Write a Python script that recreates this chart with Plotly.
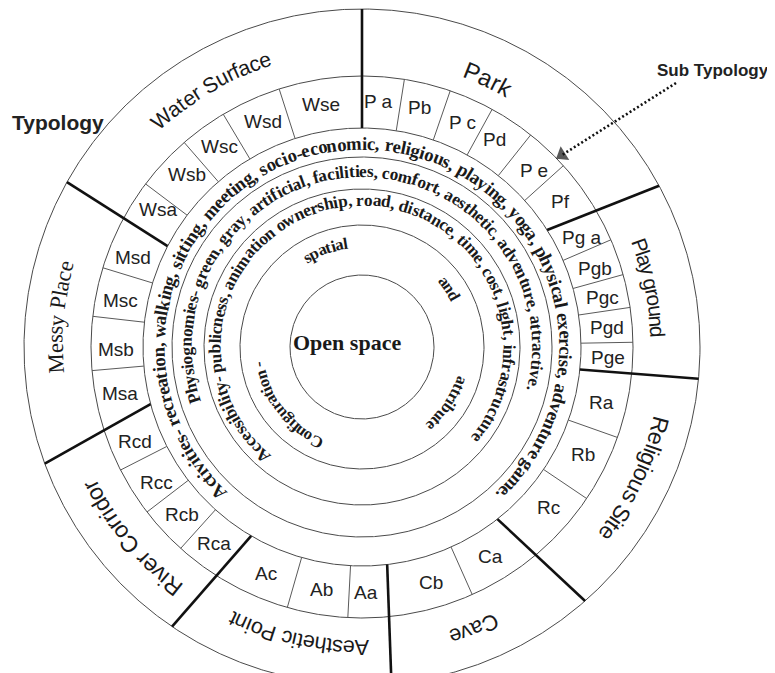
import numpy as np
import plotly.graph_objects as go

W, H = 775, 673
PAGE_MARGIN = 8  # default browser body margin around the figure
CX, CY = 362.0, 347.0

# ---------------- data ----------------
ring_radii = [72, 122, 158, 190, 219, 271, 338]
R_SUB_IN, R_SUB_OUT, R_OUT = 219, 271, 338
R_SUB_LABEL = 246

typology_names = ["Water Surface", "Park", "Play ground", "Religious Site",
                  "Cave", "Aesthetic Point", "River Corridor", "Messy Place"]
typology_start = [131.3, 68.2, 20.0, -14.8, -65.1, 270.0, 231.6, 183.0]
typology_end = [108.6, 61.1, 3.0, -37.2, -72.1, 244.5, 206.9, 164.7]
typology_radius = [303, 296, 296, 308, 304, 301, 305, 307]
typology_serif = [False, False, False, False, False, False, False, True]
typology_glyph_scale = [1.0, 0.95, 1.12, 1.04, 1.0, 1.0, 1.0, 1.0]

boundary_inner = [90.0, 32.3, -5.9, -51.8, -83.4, 239.6, 195.1, 152.6]
boundary_outer = [90.0, 28.5, -5.4, -48.7, -85.0, 235.8, 200.2, 150.8]

sub_names = ["P a", "Pb", "P c", "Pd", "P e", "Pf",
             "Pg a", "Pgb", "Pgc", "Pgd", "Pge",
             "Ra", "Rb", "Rc", "Ca", "Cb", "Aa", "Ab", "Ac",
             "Rca", "Rcb", "Rcc", "Rcd", "Msa", "Msb", "Msc", "Msd",
             "Wsa", "Wsb", "Wsc", "Wsd", "Wse"]
sub_angles = [86.2, 76.4, 65.9, 57.5, 45.8, 36.2,
              26.5, 18.7, 11.7, 4.5, -2.4,
              -13.1, -25.8, -40.6, -58.4, -73.6, -89.0, -99.5, -113.0,
              -127.0, -137.0, -146.5, -157.5, -169.2, -179.5, 169.0, 158.6,
              146.0, 135.5, 125.3, 113.8, 99.6]
sub_dividers = [81.0, 71.0, 61.3, 51.5, 42.0, 23.3, 15.5, 8.4, 1.0,
                -19.5, -34.0, -66.0, -93.0, -106.0, -132.0, -142.5, -153.0,
                -175.0, 173.5, 163.0, 143.0, 131.0, 120.8, 107.8]

ring_texts = [
    "Activities- recreation, walking, sitting, meeting, socio-economic, religious, playing, yoga, physical exercise, adventure game.",
    "Physiognomies- green, gray, artificial, facilities, comfort, aesthetic, adventure, attractive.",
    "Accessibility- publicness, animation ownership, road, distance, time, cost, light, infrastructure",
]
ring_text_radius = [204, 175.5, 147]
ring_text_start = [225.2, 197.0, 227.5]
ring_text_end = [-47.2, -13.6, -38.4]

config_words = ["Configuration -", "spatial", "and", "attribute"]
config_angles = [217.6, 110.5, 34.0, -33.6]
CONFIG_R = 105
CONFIG_FS = 16.5

center_label = "Open space"
center_label_pos = (347, 342)

arrow_tail = (676, 83)
arrow_tip = (562, 155)

# ---------------- font metrics (per 1000 em) ----------------
TIMES_BOLD = {' ': 250, ',': 250, '-': 333, '.': 250, 'A': 722, 'C': 722, 'P': 611,
              'a': 500, 'b': 556, 'c': 444, 'd': 556, 'e': 444, 'f': 333, 'g': 500,
              'h': 556, 'i': 278, 'j': 333, 'k': 556, 'l': 278, 'm': 833, 'n': 556,
              'o': 500, 'p': 556, 'q': 556, 'r': 444, 's': 389, 't': 333, 'u': 556,
              'v': 500, 'w': 722, 'x': 500, 'y': 500, 'z': 444}
TIMES = {' ': 250, 'M': 889, 'P': 556, 'a': 444, 'c': 444, 'e': 444, 'l': 278,
         's': 389, 'y': 500}
HELV = {' ': 278, 'A': 667, 'C': 722, 'P': 667, 'R': 722, 'S': 667, 'W': 944,
        'a': 556, 'c': 500, 'd': 556, 'e': 556, 'f': 278, 'g': 556, 'h': 556,
        'i': 222, 'k': 500, 'l': 222, 'n': 556, 'o': 556, 'p': 556, 'r': 333,
        's': 500, 't': 278, 'u': 556, 'v': 500, 'y': 500}

SERIF = "Liberation Serif, Times New Roman, serif"
SANS = "Liberation Sans, Arial, sans-serif"
TXT = "#1a1a1a"


def pol(r, a_deg):
    t = np.deg2rad(a_deg)
    return CX + r * np.cos(t), CY - r * np.sin(t)


def centers(text, widths):
    w = np.array([widths.get(c, 500) for c in text], dtype=float) / 1000.0
    return w, np.cumsum(w) - w / 2


def make_anns(text, ang, r, fs, family, weight):
    out = []
    for ch, a in zip(text, ang):
        if ch == ' ':
            continue
        x, y = pol(r, a)
        rot = ((90 - a + 180) % 360) - 180
        out.append(dict(x=x, y=y, xref='x', yref='y', text=ch, showarrow=False,
                        textangle=rot, xanchor='center', yanchor='middle',
                        font=dict(family=family, size=fs, color=TXT, weight=weight)))
    return out


def arc_span(text, widths, r, a0, a1, family, weight, glyph_scale=1.0):
    w, c = centers(text, widths)
    span = np.deg2rad(a0 - a1)
    fs = span * r / (c[-1] - c[0])
    ang = a0 - np.rad2deg((c - c[0]) * fs / r)
    return make_anns(text, ang, r, fs * glyph_scale, family, weight)


def arc_center(text, widths, r, a_mid, fs, family, weight):
    w, c = centers(text, widths)
    ang = a_mid - np.rad2deg((c - w.sum() / 2) * fs / r)
    return make_anns(text, ang, r, fs, family, weight)


fig = go.Figure()

# circles
th = np.linspace(0, 2 * np.pi, 1441)
for r in ring_radii:
    fig.add_trace(go.Scatter(x=CX + r * np.cos(th), y=CY - r * np.sin(th), mode='lines',
                             line=dict(color='#4a4a4a', width=1), hoverinfo='skip'))

# sub dividers
xs, ys = [], []
for a in sub_dividers:
    x0, y0 = pol(R_SUB_IN, a)
    x1, y1 = pol(R_SUB_OUT, a)
    xs += [x0, x1, None]
    ys += [y0, y1, None]
fig.add_trace(go.Scatter(x=xs, y=ys, mode='lines', line=dict(color='#5a5a5a', width=1),
                         hoverinfo='skip'))

# typology boundaries (thick)
xs, ys = [], []
for ai, ao in zip(boundary_inner, boundary_outer):
    x0, y0 = pol(R_SUB_IN, ai)
    x1, y1 = pol(R_OUT, ao)
    xs += [x0, x1, None]
    ys += [y0, y1, None]
fig.add_trace(go.Scatter(x=xs, y=ys, mode='lines', line=dict(color='#111111', width=2.6),
                         hoverinfo='skip'))

# dotted arrow
fig.add_trace(go.Scatter(x=[arrow_tail[0], arrow_tip[0]], y=[arrow_tail[1], arrow_tip[1]],
                         mode='lines', line=dict(color='#111111', width=2.6, dash='2px,2.4px'),
                         hoverinfo='skip'))
fig.add_trace(go.Scatter(x=[arrow_tail[0], arrow_tip[0]], y=[arrow_tail[1], arrow_tip[1]],
                         mode='markers',
                         marker=dict(symbol='triangle-up', size=[0, 14], color='#111111',
                                     angleref='previous', line=dict(width=0)),
                         hoverinfo='skip'))

anns = []
for txt, r, a0, a1 in zip(ring_texts, ring_text_radius, ring_text_start, ring_text_end):
    anns += arc_span(txt, TIMES_BOLD, r, a0, a1, SERIF, 'bold')
for wd, a in zip(config_words, config_angles):
    anns += arc_center(wd, TIMES_BOLD, CONFIG_R, a, CONFIG_FS, SERIF, 'bold')
for name, a0, a1, r, serif, gs in zip(typology_names, typology_start, typology_end,
                                      typology_radius, typology_serif, typology_glyph_scale):
    if serif:
        anns += arc_span(name, TIMES, r, a0, a1, SERIF, 'normal', gs)
    else:
        anns += arc_span(name, HELV, r, a0, a1, SANS, 'normal', gs)
for name, a in zip(sub_names, sub_angles):
    x, y = pol(R_SUB_LABEL, a)
    anns.append(dict(x=x, y=y, xref='x', yref='y', text=name, showarrow=False,
                     xanchor='center', yanchor='middle',
                     font=dict(family=SANS, size=19, color='#222222')))
anns.append(dict(x=center_label_pos[0], y=center_label_pos[1], xref='x', yref='y',
                 text=center_label, showarrow=False, xanchor='center', yanchor='middle',
                 font=dict(family=SERIF, size=22, color=TXT, weight='bold')))
anns.append(dict(x=58, y=122, xref='x', yref='y', text="Typology", showarrow=False,
                 xanchor='center', yanchor='middle',
                 font=dict(family=SANS, size=21, color='#222222', weight='bold')))
anns.append(dict(x=771, y=70, xref='x', yref='y', text="Sub Typology", showarrow=False,
                 xanchor='right', yanchor='middle',
                 font=dict(family=SANS, size=17, color='#222222', weight='bold')))

fig.update_layout(
    width=W - PAGE_MARGIN, height=H - PAGE_MARGIN, autosize=False,
    margin=dict(l=0, r=0, t=0, b=0),
    paper_bgcolor='white', plot_bgcolor='white',
    showlegend=False,
    xaxis=dict(range=[PAGE_MARGIN, W], visible=False, fixedrange=True),
    yaxis=dict(range=[H, PAGE_MARGIN], visible=False, fixedrange=True),
    annotations=anns,
)

fig.write_html("out.html")
